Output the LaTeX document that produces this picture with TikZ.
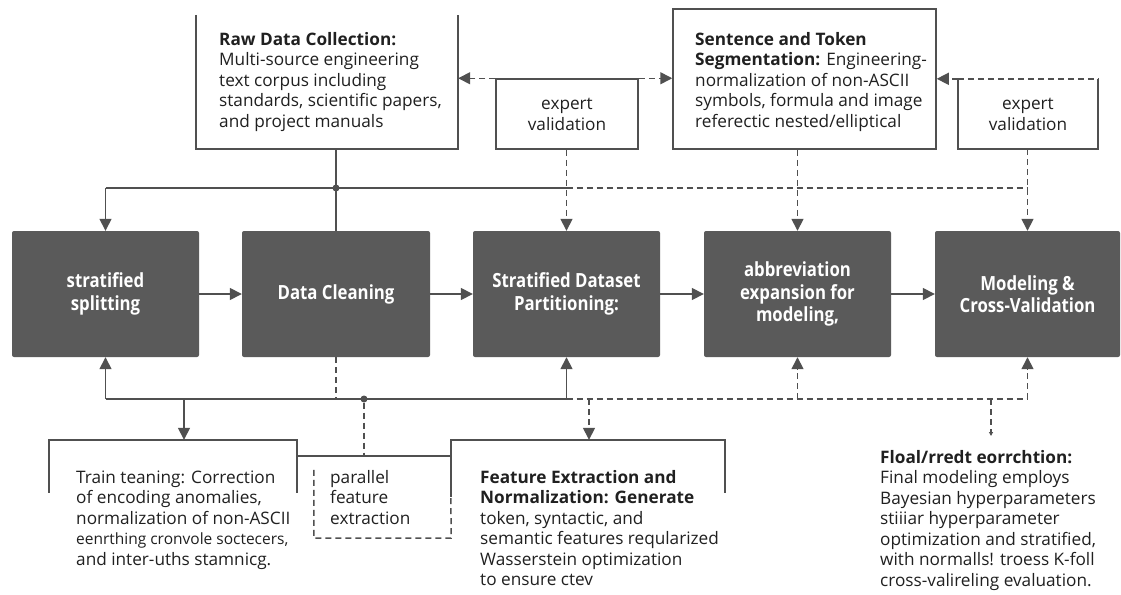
\documentclass[tikz,border=0pt]{standalone}
\usepackage{fontspec}
\setmainfont{Open Sans}
\newfontfamily\boxfont[FakeStretch=0.86]{Open Sans}
\usetikzlibrary{arrows.meta}
\definecolor{lc}{HTML}{505050}
\definecolor{boxfill}{HTML}{5A5A5A}
\definecolor{tc}{HTML}{202020}
\begin{document}
\begin{tikzpicture}[x=1pt,y=-1pt,
  dark/.style={rectangle, rounded corners=2pt, fill=boxfill, draw=none, text=white,
    font=\boxfont\bfseries\fontsize{19.5}{22.5}\selectfont, align=center,
    minimum height=126pt, inner sep=0pt},
  ln/.style={draw=lc, line width=1.5pt},
  dsh/.style={draw=lc, line width=1.5pt, dash pattern=on 6pt off 4pt},
  arr/.style={-{Triangle[width=12pt,length=12pt]}},
  frame/.style={rectangle, inner sep=0pt},
  txtb/.style={anchor=north west, align=left, inner sep=0pt, text=tc,
    font=\fontsize{17.2}{20.5}\selectfont},
  ctr/.style={align=center, inner sep=0pt, text=tc, font=\fontsize{17.2}{21}\selectfont},
  jdot/.style={circle, fill=lc, inner sep=0pt, minimum size=7pt}]
\fill[white] (0,0) rectangle (1121,594);
\useasboundingbox (0,0) rectangle (1121,594);

% main process boxes
\node[dark, minimum width=187pt] (b1) at (105.5,294) {stratified\\splitting};
\node[dark, minimum width=188pt] (b2) at (336,294) {Data Cleaning};
\node[dark, minimum width=187pt] (b3) at (566.5,294) {Stratified Dataset\\Partitioning:};
\node[dark, minimum width=187pt] (b4) at (797.5,294) {abbreviation\\expansion for\\modeling,};
\node[dark, minimum width=185pt] (b5) at (1027.5,294) {Modeling \&\\Cross-Validation};

% top frames
\node[frame, minimum width=262pt, minimum height=134pt] (raw) at (327,82) {};
\draw[ln] (raw.north west) -- (raw.south west) -- (raw.south east) -- (raw.north east);
\node[txtb] (rawtxt) at (219,30.6) {\strut\textbf{Raw Data Collection:}\\Multi-source engineering\\text corpus including\\standards, scientific papers,\\and project manuals};

\node[frame, ln, minimum width=142pt, minimum height=70pt, ctr] (ev1) at (567,114) {expert\\validation};

\node[frame, ln, minimum width=263pt, minimum height=140pt] (sent) at (804.5,79) {};
\node[txtb] (senttxt) at (695,30.6) {\strut\textbf{Sentence and Token}\\\textbf{Segmentation:} Engineering-\\normalization of non-ASCII\\symbols, formula and image\\referectic nested/elliptical};

\node[frame, minimum width=140pt, minimum height=70pt, ctr] (ev2) at (1028,114) {expert\\validation};
\draw[ln] (ev2.north west) -- (ev2.south west) -- (ev2.south east) -- (ev2.north east);
\draw[dsh] (ev2.north west) -- (ev2.north east);

% top dashed feedback
\draw[dsh, arr] (ev1.north west) -- (ev1.north west -| raw.east);
\draw[dsh, arr] (ev1.north east) -- (ev1.north east -| sent.west);
\draw[dsh, arr] (ev2.north west) -- (ev2.north west -| sent.east);

% top bus
\coordinate (ty) at (0,188);
\coordinate (by) at (0,399);
\draw[ln] (b1.north |- ty) -- (b3.north |- ty);
\draw[dsh] (b3.north |- ty) -- (b5.north |- ty);
\draw[ln, arr] (b1.north |- ty) -- (b1.north);
\draw[ln] (raw.south -| b2.north) -- (b2.north);
\node[jdot] (d1) at (b2.north |- ty) {};
\draw[dsh, arr] (ev1.south -| b3.north) -- (b3.north);
\draw[dsh, arr] (sent.south -| b4.north) -- (b4.north);
\draw[dsh, arr] (ev2.south -| b5.north) -- (b5.north);

% horizontal flow
\draw[ln, arr] (b1) -- (b2);
\draw[ln, arr] (b2) -- (b3);
\draw[ln, arr] (b3) -- (b4);
\draw[ln, arr] (b4) -- (b5);

% bottom bus
\draw[ln] (b1.south |- by) -- (b3.south |- by);
\draw[dsh] (b3.south |- by) -- (b5.south |- by);
\draw[ln, arr] (b1.south |- by) -- (b1.south);
\draw[ln, arr] (b3.south |- by) -- (b3.south);
\draw[dsh, arr] (b4.south |- by) -- (b4.south);
\draw[dsh, arr] (b5.south |- by) -- (b5.south);
\draw[dsh] (b2.south) -- (b2.south |- by);
\node[jdot] (d2) at (364,399) {};

% bottom frames
\node[frame, minimum width=248pt, minimum height=150pt] (train) at (173,515) {};
\draw[ln] ([yshift=-53pt]train.north west) -- (train.north west) -- (train.north east) -- ([yshift=-53pt]train.north east);
\node[txtb] (traintxt) at (76,468.6) {\strut Train teaning: Correction\\of encoding anomalies,\\normalization of non-ASCII\\{\fontsize{15.5}{20.5}\selectfont eenrthing cronvole soctecers,}\\and inter-uths stamnicg.};

\node[frame, minimum width=274pt, minimum height=150pt] (feat) at (588,515) {};
\draw[ln] ([yshift=-57pt]feat.north west) -- (feat.north west) -- (feat.north east) -- ([yshift=-53pt]feat.north east);
\node[txtb] (feattxt) at (480,468.6) {\strut\textbf{Feature Extraction and}\\\textbf{Normalization: Generate}\\token, syntactic, and\\semantic features reqularized\\Wasserstein optimization\\to ensure ctev};

\coordinate (ptop) at ([yshift=-16pt]train.north east);
\draw[ln] (ptop) -- (ptop -| feat.west);
\node[frame, minimum width=137pt, minimum height=68pt] (par) at (382.5,504) {};
\draw[dsh] (par.north west) -- (par.south west) -- (par.south east) -- ([yshift=-57pt]feat.north west);
\node[txtb] (partxt) at (330,468.6) {\strut parallel\\feature\\extraction};

\draw[dsh] (d2) -- (d2 |- ptop);
\coordinate (ta) at (184,399);
\draw[ln, arr] (ta) -- (ta |- train.north);
\coordinate (fa) at (589,399);
\draw[dsh, arr] (fa) -- (fa |- feat.north);
\coordinate (fn) at (991,399);
\coordinate (fe) at (991,436);
\draw[dsh, -{Triangle[width=4pt,length=4pt]}] (fn) -- (fe);

\node[txtb] (finaltxt) at (880,448.6) {\strut\textbf{Floal/rredt eorrchtion:}\\Final modeling employs\\Bayesian hyperparameters\\stiiiar hyperparameter\\optimization and stratified,\\with normalls! troess K-foll\\cross-valireling evaluation.};
\end{tikzpicture}
\end{document}
